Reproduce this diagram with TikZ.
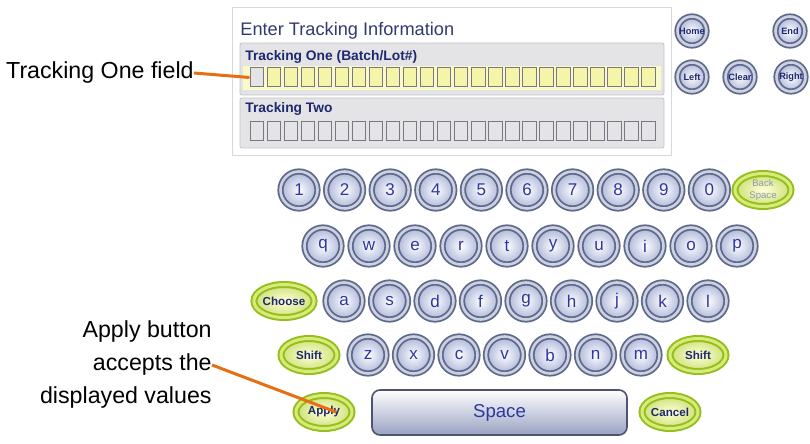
\documentclass[tikz,border=0pt]{standalone}
\usepackage{fontspec}
\setmainfont{Liberation Sans}
\usepackage{tikz}
\usetikzlibrary{positioning, shapes.geometric}
\definecolor{keyrim}{RGB}{95,105,140}
\definecolor{keyring}{RGB}{205,210,225}
\definecolor{keyblue}{RGB}{170,180,215}
\definecolor{keytext}{RGB}{45,55,160}
\definecolor{grim}{RGB}{150,190,30}
\definecolor{gring}{RGB}{215,235,120}
\definecolor{gfill}{RGB}{205,225,120}
\definecolor{navy}{RGB}{30,40,110}
\definecolor{callorange}{RGB}{232,110,20}
\definecolor{panelline}{RGB}{215,215,220}
\definecolor{fieldgray}{RGB}{228,228,231}
\definecolor{fieldline}{RGB}{195,195,202}
\definecolor{bandyellow}{RGB}{250,250,200}
\definecolor{boxyellow}{RGB}{245,245,170}
\definecolor{boxline}{RGB}{120,120,135}
\tikzset{
		key/.style={
			circle,
			minimum size=18.5pt,
			inner sep=0pt,
			draw=keyrim,
			line width=0.9pt,
			double=keyring,
			double distance=1.3pt,
			inner color=white,
			outer color=keyblue,
			text=keytext,
			font=\fontsize{8.5}{10}\selectfont
		},
		navkey/.style={
			key,
			minimum size=14.5pt,
			text=navy,
			font=\bfseries\fontsize{4.6}{5}\selectfont
		},
		gkey/.style={
			ellipse,
			minimum width=28pt,
			minimum height=16.5pt,
			inner sep=0pt,
			draw=grim,
			line width=1pt,
			double=gring,
			double distance=1.5pt,
			inner color=white!85!yellow,
			outer color=gfill,
			text=navy,
			font=\bfseries\fontsize{5.8}{6.5}\selectfont
		},
		spacebar/.style={
			rectangle,
			rounded corners=4pt,
			minimum width=127.5pt,
			minimum height=22.5pt,
			draw=keyrim!80!black,
			line width=0.8pt,
			top color=white,
			middle color=white!92!keyblue,
			bottom color=keyblue!90!black,
			text=keytext,
			font=\fontsize{9.3}{10}\selectfont
		},
		charbox/.style={
			rectangle,
			draw=boxline,
			line width=0.5pt,
			minimum width=6.75pt,
			minimum height=9.5pt,
			inner sep=0pt
		},
		field/.style={draw=fieldline, fill=fieldgray, rounded corners=1pt},
		fieldlabel/.style={inner sep=0pt, text=navy, font=\bfseries\fontsize{6.9}{8}\selectfont},
		title/.style={inner sep=0pt, text=navy!80!gray, font=\fontsize{9.1}{10}\selectfont},
		note/.style={inner sep=0pt, font=\fontsize{11.6}{16.5}\selectfont},
		callout/.style={draw=callorange, line width=1.5pt}
	}
\begin{document}
\begin{tikzpicture}[x=0.5pt, y=-0.5pt]
	\useasboundingbox (0,0) rectangle (810,444);
	% tracking panel
	\draw[draw=panelline, fill=white] (232,7) rectangle (671,155);
	\node[title, anchor=base west] (title) at (240,36) {Enter Tracking Information};
	\draw[field] (240,43) rectangle (664,95);
	\fill[bandyellow] (243,66) rectangle (661,90);
	\node[fieldlabel, anchor=base west] (lab1) at (245,61) {Tracking One (Batch/Lot\#)};
	\draw[field] (240,98) rectangle (664,148);
	\node[fieldlabel, anchor=base west] (lab2) at (245,113) {Tracking Two};
	\foreach \i in {1,...,24} {
		\node[charbox, fill=boxyellow] (b1-\i) at ({256.75+17.04*(\i-1)},77.5) {};
		\node[charbox] (b2-\i) at ({256.75+17.04*(\i-1)},131) {};
	}
	\node[charbox, fill=fieldgray] (cursor) at (b1-1) {};
	% cursor buttons
	\node[navkey] (navhome) at (692,31) {Home};
	\node[navkey] (navend) at (790,31) {End};
	\node[navkey] (navleft) at (692,77) {Left};
	\node[navkey] (navclear) at (740,77) {Clear};
	\node[navkey] (navright) at (791,77) {Right};
	% keyboard
	\foreach \ch [count=\i from 0] in {1,2,3,4,5,6,7,8,9,0}
		\node[key] (key-\ch) at ({299+45.6*\i},190) {\ch};
	\foreach \ch [count=\i from 0] in {q,w,e,r,t,y,u,i,o,p}
		\node[key] (key-\ch) at ({323+46*\i},246) {\ch};
	\foreach \ch [count=\i from 0] in {a,s,d,f,g,h,j,k,l}
		\node[key] (key-\ch) at ({344+45.5*\i},301) {\ch};
	\foreach \ch [count=\i from 0] in {z,x,c,v,b,n,m}
		\node[key] (key-\ch) at ({368+45.5*\i},355) {\ch};
	\node[gkey, align=center, text=keyrim!70, font=\fontsize{4.8}{5.8}\selectfont] (backspace) at (763,190) {Back\\Space};
	\node[gkey] (choose) at (284,301) {Choose};
	\node[gkey] (shiftl) at (309,355) {Shift};
	\node[gkey] (shiftr) at (698,355) {Shift};
	\node[gkey] (apply) at (324,412) {Apply};
	\node[spacebar] (space) at (499.5,412.5) {Space};
	\node[gkey] (cancel) at (670,412) {Cancel};
	% callouts
	\node[note, anchor=base east] (lblone) at (194,79) {Tracking One field};
	\node[note, anchor=east, align=right] (lblapply) at (212,365) {Apply button\\accepts the\\displayed values};
	\draw[callout] (lblone.east) -- (b1-1.west);
	\draw[callout] (lblapply.east) -- ([xshift=6pt]apply.center);
\end{tikzpicture}
\end{document}
